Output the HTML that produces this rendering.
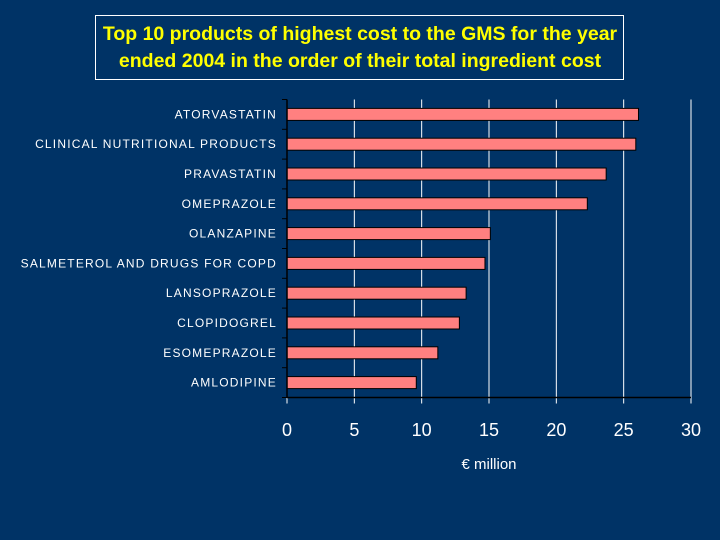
<!DOCTYPE html>
<html><head><meta charset="utf-8"><style>
html,body{margin:0;background:#003366;width:720px;height:540px;overflow:hidden;font-family:"Liberation Sans",sans-serif}
svg{display:block}
</style></head><body>
<svg width="720" height="540" xmlns="http://www.w3.org/2000/svg">
<rect width="720" height="540" fill="#003366"/>
<rect x="95.5" y="15.5" width="528" height="64" fill="none" stroke="#fff" stroke-width="1"/>
<text x="360" y="40" text-anchor="middle" fill="#ffff00" font-size="19.5" font-weight="bold">Top 10 products of highest cost to the GMS for the year</text>
<text x="360" y="67" text-anchor="middle" fill="#ffff00" font-size="19.5" font-weight="bold">ended 2004 in the order of their total ingredient cost</text>
<g id="plot"></g>
<text x="489" y="469" text-anchor="middle" fill="#fff" font-size="15">€ million</text>
</svg>
<script>
const categories=["ATORVASTATIN","CLINICAL NUTRITIONAL PRODUCTS","PRAVASTATIN","OMEPRAZOLE","OLANZAPINE","SALMETEROL AND DRUGS FOR COPD","LANSOPRAZOLE","CLOPIDOGREL","ESOMEPRAZOLE","AMLODIPINE"];
const values=[26.1,25.9,23.7,22.3,15.1,14.7,13.3,12.8,11.2,9.6];
const ticks=[0,5,10,15,20,25,30];
const NS="http://www.w3.org/2000/svg";
const g=document.getElementById('plot');
const x0=287,x1=691,yTop=99.5,yBot=397.5,xmax=30;
const X=v=>x0+(x1-x0)*v/xmax;
const band=(yBot-yTop)/categories.length;
function el(t,a){const e=document.createElementNS(NS,t);for(const k in a)e.setAttribute(k,a[k]);g.appendChild(e);return e;}
ticks.forEach(t=>{
 if(t>0){const l=el('line',{x1:X(t),x2:X(t),y1:yTop,y2:yBot,stroke:'#fff','stroke-width':1});
 
 }
 const tk=el('line',{x1:X(t),x2:X(t),y1:yBot,y2:yBot+6,stroke:'#fff','stroke-width':1});
 
 
 const tx=el('text',{x:X(t),y:436,'text-anchor':'middle',fill:'#fff','font-size':18});
 tx.textContent=t;
 
 
});
categories.forEach((c,i)=>{
 const cy=yTop+band*(i+0.5);
 const r=el('rect',{x:x0,y:cy-6,width:X(values[i])-x0,height:12,fill:'#ff8080',stroke:'#000','stroke-width':1});
 
 
 const t=el('text',{x:277,y:cy+4,'text-anchor':'end',fill:'#fff','font-size':12,'letter-spacing':'1.2'});
 t.textContent=c;
 
 
});
for(let i=0;i<=categories.length;i++){
 const y=yTop+band*i;
 const l=el('line',{x1:x0-5,x2:x0,y1:y,y2:y,stroke:'#000','stroke-width':1});
 
 
}
const ya=el('line',{x1:x0,x2:x0,y1:yTop,y2:yBot,stroke:'#000','stroke-width':1.5});


const xa=el('line',{x1:x0,x2:x1,y1:yBot,y2:yBot,stroke:'#000','stroke-width':1.5});


</script>
</body></html>
